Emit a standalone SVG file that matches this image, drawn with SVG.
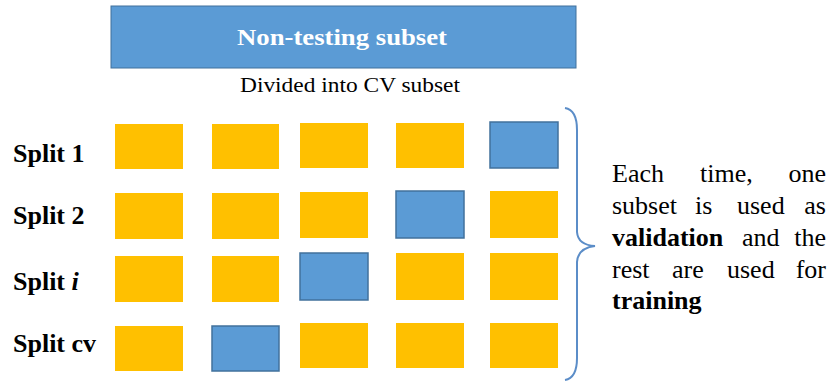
<svg xmlns="http://www.w3.org/2000/svg" width="832" height="383" viewBox="0 0 832 383" font-family="'Liberation Serif', 'Times New Roman', serif">
<style>
text{font-family:"Liberation Serif","Times New Roman",serif;fill:#000}
.b{font-weight:bold}
.o{fill:#FFC000}
.v{fill:#5B9BD5;stroke:#41719C;stroke-width:1.5}
.lbl{font-size:26px;font-weight:bold}
.rt{font-size:26px}
.end{text-anchor:end}
</style>
<rect width="832" height="383" fill="#fff"/>
<g id="non-testing">
<rect x="111" y="6" width="465" height="62" fill="#5B9BD5" stroke="#41719C" stroke-width="1"/>
<text class="b" x="342" y="45" font-size="24" text-anchor="middle" style="fill:#fff" textLength="210" lengthAdjust="spacingAndGlyphs">Non-testing subset</text>
</g>
<g id="caption">
<text x="350" y="92" font-size="22" text-anchor="middle" textLength="220" lengthAdjust="spacingAndGlyphs">Divided into CV subset</text>
</g>
<g id="labels">
<text class="lbl" x="13" y="162">Split 1</text>
<text class="lbl" x="13" y="224">Split 2</text>
<text class="lbl" x="13" y="290">Split <tspan font-style="italic">i</tspan></text>
<text class="lbl" x="13" y="352">Split cv</text>
</g>
<g id="split1">
<rect class="o" x="115" y="124" width="68" height="45"/>
<rect class="o" x="212" y="124" width="67" height="45"/>
<rect class="o" x="300" y="123" width="68" height="45"/>
<rect class="o" x="396" y="123" width="68" height="45"/>
<rect class="v" x="490" y="122" width="68" height="46"/>
</g>
<g id="split2">
<rect class="o" x="115" y="193" width="68" height="46"/>
<rect class="o" x="212" y="193" width="67" height="46"/>
<rect class="o" x="300" y="192" width="68" height="46"/>
<rect class="v" x="396" y="191" width="68" height="47"/>
<rect class="o" x="490" y="191" width="68" height="47"/>
</g>
<g id="spliti">
<rect class="o" x="115" y="256" width="68" height="46"/>
<rect class="o" x="212" y="256" width="67" height="46"/>
<rect class="v" x="300" y="253" width="68" height="47"/>
<rect class="o" x="396" y="253" width="68" height="47"/>
<rect class="o" x="490" y="253" width="68" height="47"/>
</g>
<g id="splitcv">
<rect class="o" x="115" y="326" width="68" height="45"/>
<rect class="v" x="212" y="326" width="67" height="45"/>
<rect class="o" x="300" y="323" width="68" height="45"/>
<rect class="o" x="396" y="323" width="68" height="45"/>
<rect class="o" x="490" y="323" width="68" height="45"/>
</g>
<g id="connectors">
<path d="M565,108 Q577,110 577,130 L577,232 Q578,245 595,246 Q578,248 577,262 L577,358 Q577,378 565,380" fill="none" stroke="#5B8DC8" stroke-width="2"/>
</g>
<g id="description">
<text class="rt" y="182"><tspan x="612">Each</tspan><tspan x="700">time,</tspan><tspan x="826" class="end">one</tspan></text>
<text class="rt" y="214"><tspan x="612">subset</tspan><tspan x="695">is</tspan><tspan x="737">used</tspan><tspan x="826" class="end">as</tspan></text>
<text class="rt" y="246"><tspan x="612" font-weight="bold">validation</tspan><tspan x="742">and</tspan><tspan x="826" class="end">the</tspan></text>
<text class="rt" y="278"><tspan x="612">rest</tspan><tspan x="672">are</tspan><tspan x="727">used</tspan><tspan x="826" class="end">for</tspan></text>
<text class="rt b" y="309" x="612">training</text>
</g>
</svg>
